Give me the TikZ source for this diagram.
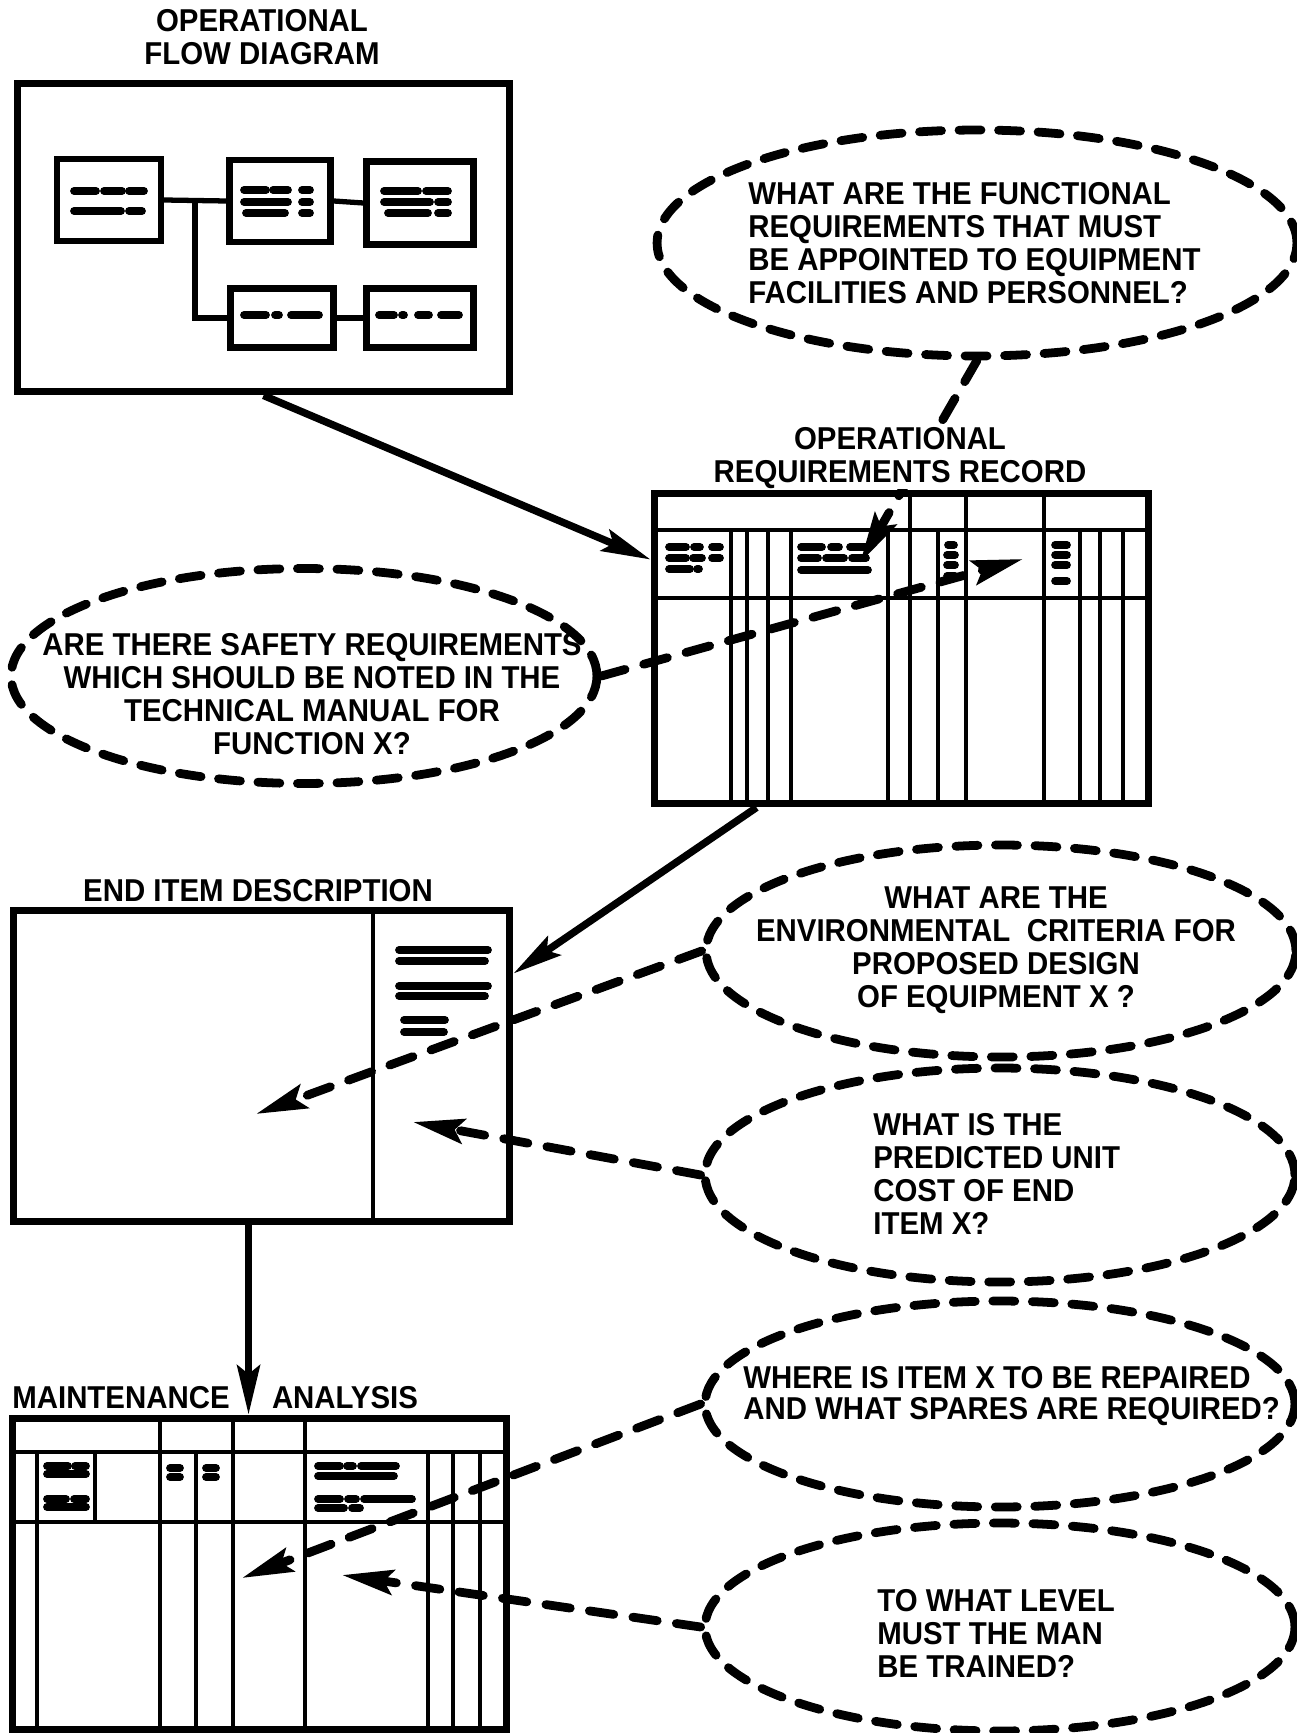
\documentclass[tikz,border=0pt]{standalone}
\usepackage{fontspec}
\newfontfamily\capsfont{Liberation Sans}[FakeStretch=0.93]
\usetikzlibrary{arrows.meta, calc, positioning, shapes.geometric}
\tikzset{
	capstext/.style={font=\capsfont\bfseries\fontsize{18}{18.8}\selectfont, inner sep=0pt}
}
\tikzset{
	bubble/.style={ellipse, draw=black, line width=5pt, dash pattern=on 12.5pt off 10pt, line cap=round, inner sep=0pt}
}
\tikzset{
	heavybox/.style={rectangle, draw=black, line width=4pt, inner sep=0pt}
}
\tikzset{
	flowbox/.style={rectangle, draw=black, line width=3.6pt, inner sep=0pt}
}
\tikzset{
	link/.style={line width=3pt}
}
\tikzset{
	ruling/.style={line width=2.4pt}
}
\tikzset{
	scribble/.style={line width=4.4pt, line cap=round}
}
\tikzset{
	solidhead/.style={line width=4.2pt, -{Stealth[length=28pt, width=13pt, inset=5pt]}}
}
\tikzset{
	dashhead/.style={line width=5pt, line cap=round, dash pattern=on 14pt off 11pt, -{Stealth[length=29pt, width=14pt, inset=5pt]}}
}

\begin{document}
\begin{tikzpicture}[x=0.02cm, y=-0.02cm]

			\useasboundingbox (0,0) rectangle (1297,1733);

			\begin{scope}
				\node[heavybox, minimum width=9.86cm, minimum height=6.18cm] (flow) at (263.5,237.5) {};

				\node[flowbox, minimum width=2.08cm, minimum height=1.64cm] (fA) at (109,200) {};
				\node[flowbox, minimum width=2.02cm, minimum height=1.64cm] (fB) at (280,201) {};
				\node[flowbox, minimum width=2.14cm, minimum height=1.66cm] (fC) at (420,203) {};
				\node[flowbox, minimum width=2.06cm, minimum height=1.18cm] (fD) at (282,318) {};
				\node[flowbox, minimum width=2.14cm, minimum height=1.18cm] (fE) at (420,318) {};

				\coordinate (fork) at (195,200);
				\draw[link] (fA.east) -- (fB.west);
				\draw[link] (fB.east) -- (fC.west);
				\draw[link] (fork) |- (fD.west);
				\draw[link] (fD.east) -- (fE.west);

				\draw[scribble] (74,191) -- (96,191);
				\draw[scribble] (104,191) -- (122,191);
				\draw[scribble] (129,191) -- (144,191);
				\draw[scribble] (74,211) -- (121,211);
				\draw[scribble] (129,211) -- (142,211);

				\draw[scribble] (244,190) -- (266,190);
				\draw[scribble] (273,190) -- (288,190);
				\draw[scribble] (302,190) -- (310,190);
				\draw[scribble] (244,202) -- (288,202);
				\draw[scribble] (302,202) -- (310,202);
				\draw[scribble] (246,213) -- (285,213);
				\draw[scribble] (302,213) -- (310,213);

				\draw[scribble] (384,191) -- (418,191);
				\draw[scribble] (426,191) -- (448,191);
				\draw[scribble] (384,202) -- (430,202);
				\draw[scribble] (438,202) -- (448,202);
				\draw[scribble] (388,213) -- (428,213);
				\draw[scribble] (438,213) -- (448,213);

				\draw[scribble] (244,315) -- (266,315);
				\draw[scribble] (275,315) -- (279,315);
				\draw[scribble] (291,315) -- (319,315);

				\draw[scribble] (379,315) -- (394,315);
				\draw[scribble] (402,315) -- (404,315);
				\draw[scribble] (418,315) -- (429,315);
				\draw[scribble] (441,315) -- (459,315);
			\end{scope}

			\begin{scope}
				\node[heavybox, minimum width=9.9cm, minimum height=6.22cm] (orr) at (901.5,648.5) {};

				\draw[ruling] (654,530) -- (1149,530);
				\draw[ruling] (654,598) -- (1149,598);

				\draw[ruling] (910,493) -- (910,530);
				\draw[ruling] (966,493) -- (966,530);
				\draw[ruling] (1044,493) -- (1044,530);

				\draw[ruling] (731,530) -- (731,804);
				\draw[ruling] (747,530) -- (747,804);
				\draw[ruling] (768,530) -- (768,804);
				\draw[ruling] (791,530) -- (791,804);
				\draw[ruling] (888,530) -- (888,804);
				\draw[ruling] (910,530) -- (910,804);
				\draw[ruling] (938,530) -- (938,804);
				\draw[ruling] (966,530) -- (966,804);
				\draw[ruling] (1044,530) -- (1044,804);
				\draw[ruling] (1080,530) -- (1080,804);
				\draw[ruling] (1100,530) -- (1100,804);
				\draw[ruling] (1123,530) -- (1123,804);

				\draw[scribble] (669,547) -- (686,547);
				\draw[scribble] (694,547) -- (700,547);
				\draw[scribble] (712,547) -- (720,547);
				\draw[scribble] (669,558) -- (686,558);
				\draw[scribble] (693,558) -- (702,558);
				\draw[scribble] (712,558) -- (720,558);
				\draw[scribble] (669,569) -- (690,569);
				\draw[scribble] (697,569) -- (699,569);

				\draw[scribble] (801,547) -- (822,547);
				\draw[scribble] (831,547) -- (839,547);
				\draw[scribble] (850,547) -- (866,547);
				\draw[scribble] (801,558) -- (818,558);
				\draw[scribble] (826,558) -- (844,558);
				\draw[scribble] (852,558) -- (866,558);
				\draw[scribble] (801,570) -- (868,570);

				\draw[scribble] (948,545) -- (954,545);
				\draw[scribble] (947,555) -- (955,555);
				\draw[scribble] (947,565) -- (955,565);
				\draw[scribble] (947,576) -- (955,576);

				\draw[scribble] (1055,545) -- (1067,545);
				\draw[scribble] (1055,555) -- (1067,555);
				\draw[scribble] (1055,565) -- (1067,565);
				\draw[scribble] (1055,581) -- (1067,581);
			\end{scope}

			\begin{scope}
				\node[heavybox, minimum width=9.94cm, minimum height=6.24cm] (eid) at (261.5,1066) {};

				\draw[line width=2.8pt] (373,910) -- (373,1222);

				\draw[scribble] (399,950) -- (488,950);
				\draw[scribble] (399,961) -- (485,961);
				\draw[scribble] (399,986) -- (488,986);
				\draw[scribble] (399,996) -- (485,996);
				\draw[scribble] (404,1020) -- (445,1020);
				\draw[scribble] (404,1032) -- (444,1032);
			\end{scope}

			\begin{scope}
				\node[heavybox, minimum width=9.9cm, minimum height=6.24cm] (ma) at (259.5,1574) {};

				\draw[ruling] (12,1452) -- (507,1452);
				\draw[ruling] (12,1522) -- (507,1522);

				\draw[ruling] (160,1418) -- (160,1452);
				\draw[ruling] (233,1418) -- (233,1452);
				\draw[ruling] (305,1418) -- (305,1452);

				\draw[ruling] (95,1452) -- (95,1522);

				\draw[ruling] (37,1452) -- (37,1730);
				\draw[ruling] (160,1452) -- (160,1730);
				\draw[ruling] (196,1452) -- (196,1730);
				\draw[ruling] (233,1452) -- (233,1730);
				\draw[ruling] (305,1452) -- (305,1730);
				\draw[ruling] (428,1452) -- (428,1730);
				\draw[ruling] (453,1452) -- (453,1730);
				\draw[ruling] (480,1452) -- (480,1730);

				\draw[scribble] (47,1466) -- (68,1466);
				\draw[scribble] (75,1466) -- (86,1466);
				\draw[scribble] (47,1474) -- (86,1474);
				\draw[scribble] (47,1499) -- (66,1499);
				\draw[scribble] (74,1499) -- (86,1499);
				\draw[scribble] (47,1507) -- (86,1507);

				\draw[scribble] (170,1468) -- (180,1468);
				\draw[scribble] (170,1477) -- (180,1477);
				\draw[scribble] (206,1468) -- (216,1468);
				\draw[scribble] (206,1477) -- (216,1477);

				\draw[scribble] (318,1466) -- (340,1466);
				\draw[scribble] (347,1466) -- (353,1466);
				\draw[scribble] (361,1466) -- (396,1466);
				\draw[scribble] (318,1476) -- (394,1476);
				\draw[scribble] (318,1499) -- (340,1499);
				\draw[scribble] (348,1499) -- (356,1499);
				\draw[scribble] (364,1499) -- (412,1499);
				\draw[scribble] (318,1508) -- (344,1508);
				\draw[scribble] (352,1508) -- (360,1508);
			\end{scope}

			\node[bubble, minimum width=12.8cm, minimum height=4.52cm] (qfunc) at (977,243) {};
			\node[bubble, minimum width=11.72cm, minimum height=4.3cm] (qsafety) at (304,676) {};
			\node[bubble, minimum width=11.8cm, minimum height=4.24cm] (qenv) at (1001,951) {};
			\node[bubble, minimum width=11.8cm, minimum height=4.28cm] (qcost) at (1000,1175) {};
			\node[bubble, minimum width=11.8cm, minimum height=4.12cm] (qrepair) at (1000,1404) {};
			\node[bubble, minimum width=11.8cm, minimum height=4.16cm] (qtrain) at (1000,1627) {};

			\node[capstext, align=left, anchor=west] (tfunc) at (748,243) {WHAT ARE THE FUNCTIONAL\\REQUIREMENTS THAT MUST\\BE APPOINTED TO EQUIPMENT\\FACILITIES AND PERSONNEL?};
			\node[capstext, align=center] (tsafety) at (312,694) {ARE THERE SAFETY REQUIREMENTS\\WHICH SHOULD BE NOTED IN THE\\TECHNICAL MANUAL FOR\\FUNCTION X?};
			\node[capstext, align=center] (tenv) at (996,950) {WHAT ARE THE\\ENVIRONMENTAL\ \ CRITERIA FOR\\PROPOSED DESIGN\\OF EQUIPMENT X ?};
			\node[capstext, align=left, anchor=west] (tcost) at (873,1174) {WHAT IS THE\\PREDICTED UNIT\\COST OF END\\ITEM X?};
			\node[capstext, align=left, anchor=west, font=\capsfont\bfseries\fontsize{18}{17.6}\selectfont] (trepair) at (743,1396) {WHERE IS ITEM X TO BE REPAIRED\\AND WHAT SPARES ARE REQUIRED?};
			\node[capstext, align=left, anchor=west] (ttrain) at (877,1633) {TO WHAT LEVEL\\MUST THE MAN\\BE TRAINED?};

			\draw[solidhead] (flow.south) -- ($(orr.north west)+(0,70)$);
			\draw[solidhead] ($(orr.south west)+(106,0)$) -- ($(eid.north east)+(0,67)$);
			\draw[solidhead] ($(eid.south west)+(239,0)$) -- ($(ma.north west)+(240,0)$);

			\coordinate (tipA) at (860,563);
			\coordinate (tipB) at (1023,559);
			\coordinate (tipC) at (256,1114);
			\coordinate (tipD) at (413,1122);
			\coordinate (tipE) at (242,1578);
			\coordinate (tipF) at (342,1575);

			\draw[dashhead] (qfunc.south) -- (tipA);
			\draw[dashhead] (qsafety.east) -- (tipB);
			\draw[dashhead] (qenv.west) -- (tipC);
			\draw[dashhead] (qcost.west) -- (tipD);
			\draw[dashhead] (qrepair.west) -- (tipE);
			\draw[dashhead] (qtrain.west) -- (tipF);

			\node[capstext, align=center] (hflow) at (262,37) {OPERATIONAL\\FLOW DIAGRAM};
			\node[capstext, align=center, fill=white] (horr) at (900,458) {OPERATIONAL\\REQUIREMENTS RECORD};
			\node[capstext] (heid) at (258,891) {END ITEM DESCRIPTION};
			\node[capstext] (hmaint) at (121,1398) {MAINTENANCE};
			\node[capstext] (hanal) at (345,1398) {ANALYSIS};

		\end{tikzpicture}
\end{document}
